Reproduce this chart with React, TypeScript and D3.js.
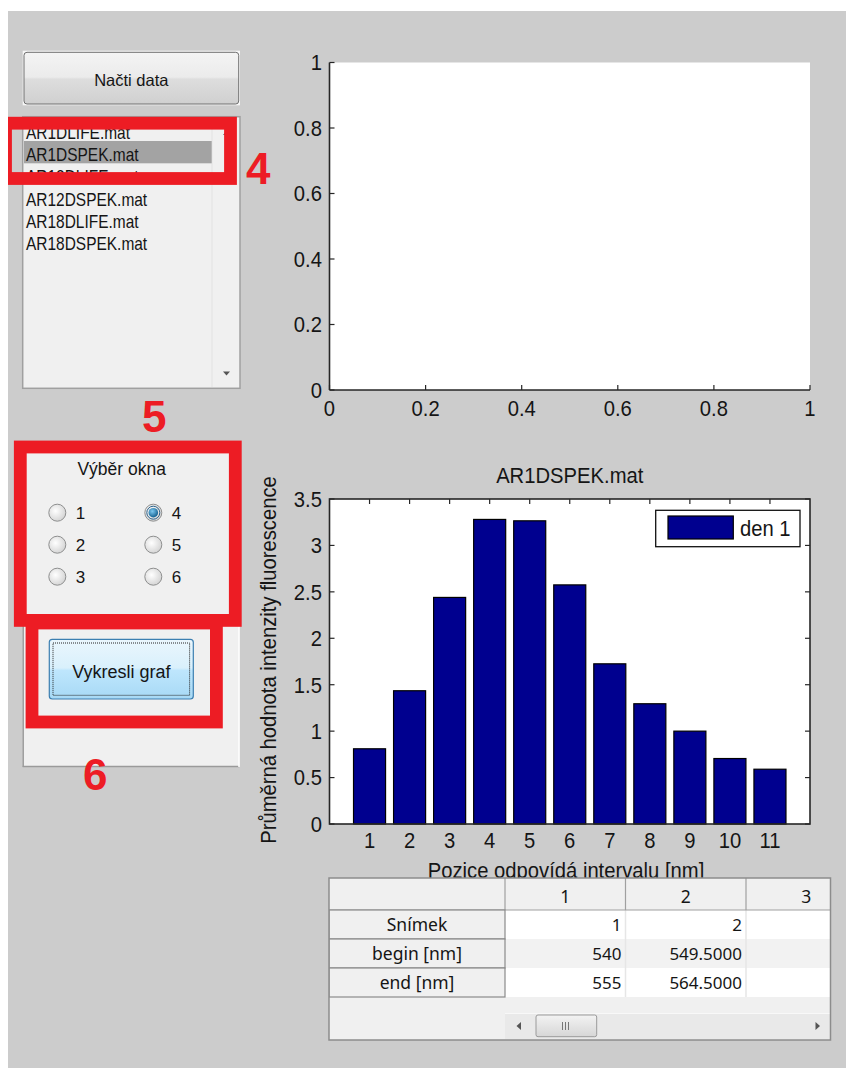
import React from "react";
import * as d3 from "d3";

// ---------- data ----------
const fileNames = ["AR1DLIFE.mat", "AR1DSPEK.mat", "AR12DLIFE.mat", "AR12DSPEK.mat", "AR18DLIFE.mat", "AR18DSPEK.mat"];
const selectedFile = 1;
const radioLabels = ["1", "2", "3", "4", "5", "6"];
const selectedRadio = 3;
const topTicks = [0, 0.2, 0.4, 0.6, 0.8, 1];
const topTickLabels = ["0", "0.2", "0.4", "0.6", "0.8", "1"];
const positions = [1, 2, 3, 4, 5, 6, 7, 8, 9, 10, 11];
const values = [0.81, 1.435, 2.44, 3.28, 3.265, 2.575, 1.725, 1.295, 1.0, 0.705, 0.59];
const yTicks = [0, 0.5, 1, 1.5, 2, 2.5, 3, 3.5];
const yTickLabels = ["0", "0.5", "1", "1.5", "2", "2.5", "3", "3.5"];
const legendLabel = "den 1";
const chartTitle = "AR1DSPEK.mat";
const xLabel = "Pozice odpovídá intervalu [nm]";
const yLabel = "Průměrná hodnota intenzity fluorescence";
const tableColumns = ["1", "2", "3"];
const tableRowNames = ["Snímek", "begin [nm]", "end [nm]"];
const tableValues = [
  ["1", "2", ""],
  ["540", "549.5000", ""],
  ["555", "564.5000", ""],
];
const loadLabel = "Načti data";
const groupLabel = "Výběr okna";
const drawLabel = "Vykresli graf";
const markers = ["4", "5", "6"];

// ---------- style ----------
const AX = "'Liberation Sans', Arial, sans-serif";
const UI = "'Noto Sans', sans-serif";
const INK = "#151515";
const RED = "#ed1c24";
const BAR = "#00008f";
const AXSX = 0.92;
const AXFS = 22;

function T(props: any) {
  const { x, y, sx = 1, rot = 0, anchor = "start", size, family = AX, weight, fill = INK, children } = props;
  return (
    <text
      transform={`translate(${x},${y}) rotate(${rot}) scale(${sx},1)`}
      textAnchor={anchor}
      fontSize={size}
      fontFamily={family}
      fontWeight={weight}
      fill={fill}
    >
      {children}
    </text>
  );
}

export default function App() {
  // top (empty) axes
  const xT = d3.scaleLinear().domain([0, 1]).range([329.5, 810]);
  const yT = d3.scaleLinear().domain([0, 1]).range([390, 62.5]);
  // bar axes
  const xB = d3.scaleLinear().domain([0, 12]).range([329.5, 810]);
  const yB = d3.scaleLinear().domain([0, 3.5]).range([824, 499]);
  const bw = 0.8;
  const tick = 5;

  // table geometry
  const tX0 = 329, tY0 = 878, tX1 = 830.5, tY1 = 1040;
  const rowHdrW = 176;
  const colW = 120.5;
  const hdrH = 32;
  const rowH = 29;
  const colX = (i: number) => tX0 + rowHdrW + i * colW;

  // list geometry
  const listY0 = 132.5, listStep = 22.2;

  const radioPos = radioLabels.map((l, i) => ({
    label: l,
    cx: i < 3 ? 57.3 : 153.3,
    cy: 512.7 + (i % 3) * 32,
  }));

  return (
    <div style={{ position: "absolute", left: 0, top: 0 }}>
      <svg width={846} height={1068} viewBox="0 0 846 1068" style={{ display: "block" }}>
        <defs>
          <linearGradient id="btnGray" x1="0" y1="0" x2="0" y2="1">
            <stop offset="0" stopColor="#f4f4f4" />
            <stop offset="0.48" stopColor="#ebebeb" />
            <stop offset="0.52" stopColor="#dddddd" />
            <stop offset="1" stopColor="#d0d0d0" />
          </linearGradient>
          <linearGradient id="btnBlue" x1="0" y1="0" x2="0" y2="1">
            <stop offset="0" stopColor="#eaf6fd" />
            <stop offset="0.48" stopColor="#d9f0fc" />
            <stop offset="0.52" stopColor="#bee6fd" />
            <stop offset="1" stopColor="#a7d9f5" />
          </linearGradient>
          <radialGradient id="radioOff" cx="0.4" cy="0.4" r="0.7">
            <stop offset="0" stopColor="#ffffff" />
            <stop offset="1" stopColor="#cfcfcf" />
          </radialGradient>
          <radialGradient id="radioDot" cx="0.4" cy="0.35" r="0.7">
            <stop offset="0" stopColor="#7cc8f0" />
            <stop offset="1" stopColor="#0d5a8a" />
          </radialGradient>
          <linearGradient id="thumb" x1="0" y1="0" x2="0" y2="1">
            <stop offset="0" stopColor="#f3f3f3" />
            <stop offset="1" stopColor="#d6d6d6" />
          </linearGradient>
          <clipPath id="gray">
            <rect x={8} y={11} width={838} height={1057} />
          </clipPath>
          <clipPath id="listClip">
            <rect x={24} y={118} width={214} height={269} />
          </clipPath>
          <clipPath id="tableClip">
            <rect x={tX0} y={tY0} width={tX1 - tX0} height={tY1 - tY0} />
          </clipPath>
        </defs>

        {/* page background */}
        <rect x={0} y={0} width={846} height={1068} fill="#ffffff" />
        <rect x={8} y={11} width={838} height={1057} fill="#cccccc" />

        {/* ---------- left controls ---------- */}
        <rect x={22.7} y={50.7} width={217.3} height={54.6} fill="#f7f7f7" />
        <rect x={24} y={52.3} width={214.7} height={51.7} rx={3} fill="url(#btnGray)" stroke="#707070" strokeWidth={1} />
        <T x={131.3} y={86} size={16.5} anchor="middle">{loadLabel}</T>

        {/* listbox */}
        <rect x={22.7} y={116.7} width={217.3} height={271.6} fill="#f0f0f0" stroke="#a0a0a0" strokeWidth={1.5} />
        <line x1={212} y1={118} x2={212} y2={387} stroke="#e2e2e2" />
        <g clipPath="url(#listClip)">
          <rect x={24} y={141} width={187.7} height={22.3} fill="#a3a3a3" />
          {fileNames.map((f, i) => (
            <T key={f} x={26} y={listY0 + i * listStep + 6.5} size={18} sx={0.86}>{f}</T>
          ))}
        </g>
        <path d="M223,135 L230,135 L226.5,131 Z" fill="#555" />
        <path d="M223,371.5 L230,371.5 L226.5,375.5 Z" fill="#555" />

        {/* panel */}
        <rect x={22.7} y={447} width={216.6} height={320} fill="#f0f0f0" />
        <line x1={23.2} y1={447} x2={23.2} y2={767} stroke="#9a9a9a" strokeWidth={1.5} />
        <line x1={22.7} y1={766.5} x2={239.3} y2={766.5} stroke="#9a9a9a" strokeWidth={1.5} />
        <line x1={239} y1={447} x2={239} y2={767} stroke="#ffffff" strokeWidth={1.5} />

        <T x={121.7} y={474.5} size={17.5} anchor="middle">{groupLabel}</T>
        {radioPos.map((r, i) => (
          <g key={r.label}>
            <circle cx={r.cx} cy={r.cy} r={8.5} fill="url(#radioOff)" stroke="#8e8f8f" strokeWidth={1} />
            {i === selectedRadio && (
              <>
                <circle cx={r.cx} cy={r.cy} r={6.5} fill="none" stroke="#2c628b" strokeWidth={1} />
                <circle cx={r.cx} cy={r.cy} r={4.8} fill="url(#radioDot)" />
              </>
            )}
            <T x={r.cx + 18.5} y={r.cy + 6} size={17}>{r.label}</T>
          </g>
        ))}

        <rect x={49.3} y={639.3} width={144} height={59.7} rx={3} fill="url(#btnBlue)" stroke="#3c7fb1" strokeWidth={1.2} />
        <rect x={53} y={643} width={136.6} height={52.3} fill="none" stroke="#222" strokeWidth={1} strokeDasharray="1,1" />
        <T x={121.3} y={677.5} size={18} anchor="middle">{drawLabel}</T>

        {/* red annotation boxes */}
        <g clipPath="url(#gray)">
          <rect x={5.5} y={123.2} width={225} height={55.3} fill="none" stroke={RED} strokeWidth={12.8} />
          <rect x={20.3} y={447} width={215} height={173.4} fill="none" stroke={RED} strokeWidth={12.8} />
          <rect x={32} y={623} width={184.4} height={99} fill="none" stroke={RED} strokeWidth={12.8} />
        </g>
        <T x={246} y={183.5} size={44} weight="bold" fill={RED}>{markers[0]}</T>
        <T x={142} y={432} size={44} weight="bold" fill={RED}>{markers[1]}</T>
        <T x={83} y={790} size={44} weight="bold" fill={RED}>{markers[2]}</T>

        {/* ---------- top empty axes ---------- */}
        <rect x={xT(0)} y={yT(1)} width={xT(1) - xT(0)} height={yT(0) - yT(1)} fill="#ffffff" />
        {topTicks.map((t) => (
          <g key={"ty" + t}>
            <line x1={xT(0)} x2={xT(0) + tick} y1={yT(t)} y2={yT(t)} stroke="#262626" strokeWidth={1.2} />
            <line x1={xT(t)} x2={xT(t)} y1={yT(0)} y2={yT(0) - tick} stroke="#262626" strokeWidth={1.2} />
          </g>
        ))}
        <line x1={xT(0)} x2={xT(0)} y1={yT(1)} y2={yT(0)} stroke="#262626" strokeWidth={1.6} />
        <line x1={xT(0)} x2={xT(1)} y1={yT(0)} y2={yT(0)} stroke="#262626" strokeWidth={1.6} />
        {topTicks.map((t, i) => (
          <T key={"tyl" + t} x={xT(0) - 7.5} y={yT(t) + 7.8} size={AXFS} sx={AXSX} anchor="end">{topTickLabels[i]}</T>
        ))}
        {topTicks.map((t, i) => (
          <T key={"txl" + t} x={xT(t)} y={415.5} size={AXFS} sx={AXSX} anchor="middle">{topTickLabels[i]}</T>
        ))}

        {/* ---------- bar chart ---------- */}
        <T x={(xB(0) + xB(12)) / 2} y={482.5} size={AXFS} sx={AXSX} anchor="middle">{chartTitle}</T>
        <rect x={xB(0)} y={yB(3.5)} width={xB(12) - xB(0)} height={yB(0) - yB(3.5)} fill="#ffffff" />
        {yTicks.map((t) => (
          <g key={"by" + t}>
            <line x1={xB(0)} x2={xB(0) + tick} y1={yB(t)} y2={yB(t)} stroke="#262626" strokeWidth={1.2} />
            <line x1={xB(12)} x2={xB(12) - tick} y1={yB(t)} y2={yB(t)} stroke="#262626" strokeWidth={1.2} />
          </g>
        ))}
        {positions.map((p) => (
          <g key={"bx" + p}>
            <line x1={xB(p)} x2={xB(p)} y1={yB(3.5)} y2={yB(3.5) + tick} stroke="#262626" strokeWidth={1.2} />
            <line x1={xB(p)} x2={xB(p)} y1={yB(0)} y2={yB(0) - tick} stroke="#262626" strokeWidth={1.2} />
          </g>
        ))}
        {positions.map((p, i) => (
          <rect
            key={"bar" + p}
            x={xB(p - bw / 2)}
            y={yB(values[i])}
            width={xB(p + bw / 2) - xB(p - bw / 2)}
            height={yB(0) - yB(values[i])}
            fill={BAR}
            stroke="#000"
            strokeWidth={1.2}
          />
        ))}
        <rect x={xB(0)} y={yB(3.5)} width={xB(12) - xB(0)} height={yB(0) - yB(3.5)} fill="none" stroke="#262626" strokeWidth={1.6} />
        {yTicks.map((t, i) => (
          <T key={"byl" + t} x={xB(0) - 7.5} y={yB(t) + 7.8} size={AXFS} sx={AXSX} anchor="end">{yTickLabels[i]}</T>
        ))}
        {positions.map((p) => (
          <T key={"bxl" + p} x={xB(p)} y={848} size={AXFS} sx={AXSX} anchor="middle">{String(p)}</T>
        ))}

        {/* legend */}
        <rect x={655.7} y={510.3} width={144.3} height={36.4} fill="#ffffff" stroke="#111" strokeWidth={1.3} />
        <rect x={668} y={516} width={65.3} height={23} fill={BAR} stroke="#000" strokeWidth={1.2} />
        <T x={740} y={536} size={AXFS} sx={AXSX}>{legendLabel}</T>

        {/* axis labels */}
        <T x={276} y={660} rot={-90} size={AXFS} sx={AXSX} anchor="middle">{yLabel}</T>
        <T x={566} y={877.5} size={AXFS} sx={AXSX} anchor="middle">{xLabel}</T>

        {/* ---------- table ---------- */}
        <rect x={tX0} y={tY0} width={tX1 - tX0} height={tY1 - tY0} fill="#f0f0f0" />
        <g clipPath="url(#tableClip)">
          {/* data cells */}
          {tableValues.map((row, r) => (
            <rect
              key={"rowbg" + r}
              x={colX(0)}
              y={tY0 + hdrH + r * rowH}
              width={tX1 - colX(0)}
              height={rowH}
              fill={r % 2 === 0 ? "#ffffff" : "#f2f2f2"}
            />
          ))}
          {tableColumns.map((c, i) => (
            <line key={"dv" + c} x1={colX(i + 1)} x2={colX(i + 1)} y1={tY0 + hdrH} y2={tY0 + hdrH + rowH * 3} stroke="#e6e6e6" strokeWidth={1.5} />
          ))}
          {/* header */}
          <rect x={tX0} y={tY0} width={tX1 - tX0} height={hdrH} fill="#f0f0f0" />
          <line x1={tX0} x2={tX1} y1={tY0 + hdrH} y2={tY0 + hdrH} stroke="#a0a0a0" strokeWidth={1.2} />
          {[0, 1, 2].map((i) => (
            <line key={"hv" + i} x1={colX(i)} x2={colX(i)} y1={tY0} y2={tY0 + hdrH} stroke="#a0a0a0" strokeWidth={1.2} />
          ))}
          {tableColumns.map((c, i) => (
            <T key={"hc" + c} x={colX(i) + colW / 2} y={tY0 + 25} size={17.5} family={UI} anchor="middle">{c}</T>
          ))}
          {/* row headers */}
          {tableRowNames.map((n, r) => (
            <g key={"rh" + n}>
              <rect x={tX0} y={tY0 + hdrH + r * rowH} width={rowHdrW} height={rowH} fill="#f0f0f0" stroke="#8a8a8a" strokeWidth={1.2} />
              <T x={tX0 + rowHdrW / 2} y={tY0 + hdrH + r * rowH + 21} size={17.5} family={UI} anchor="middle">{n}</T>
            </g>
          ))}
          {tableValues.map((row, r) =>
            row.map((v, c) => (
              <T key={"tv" + r + "_" + c} x={colX(c + 1) - 4} y={tY0 + hdrH + r * rowH + 21} size={17} family={UI} anchor="end">{v}</T>
            ))
          )}
          {/* horizontal scrollbar */}
          <rect x={colX(0)} y={1013.5} width={tX1 - colX(0)} height={26} fill="#e9e9e9" />
          <line x1={colX(0)} x2={tX1} y1={1013.5} y2={1013.5} stroke="#f8f8f8" />
          <rect x={536} y={1015} width={60.7} height={21.7} rx={2} fill="url(#thumb)" stroke="#9a9a9a" strokeWidth={1} />
          {[0, 1, 2].map((k) => (
            <line key={"grip" + k} x1={562.5 + k * 3} x2={562.5 + k * 3} y1={1022} y2={1030} stroke="#777" strokeWidth={1} />
          ))}
          <path d="M516.5,1026 L521,1022 L521,1030 Z" fill="#555" />
          <path d="M820,1026 L815.5,1022 L815.5,1030 Z" fill="#555" />
        </g>
        <rect x={tX0} y={tY0} width={tX1 - tX0} height={tY1 - tY0} fill="none" stroke="#8c8c8c" strokeWidth={1.5} />
      </svg>
    </div>
  );
}
